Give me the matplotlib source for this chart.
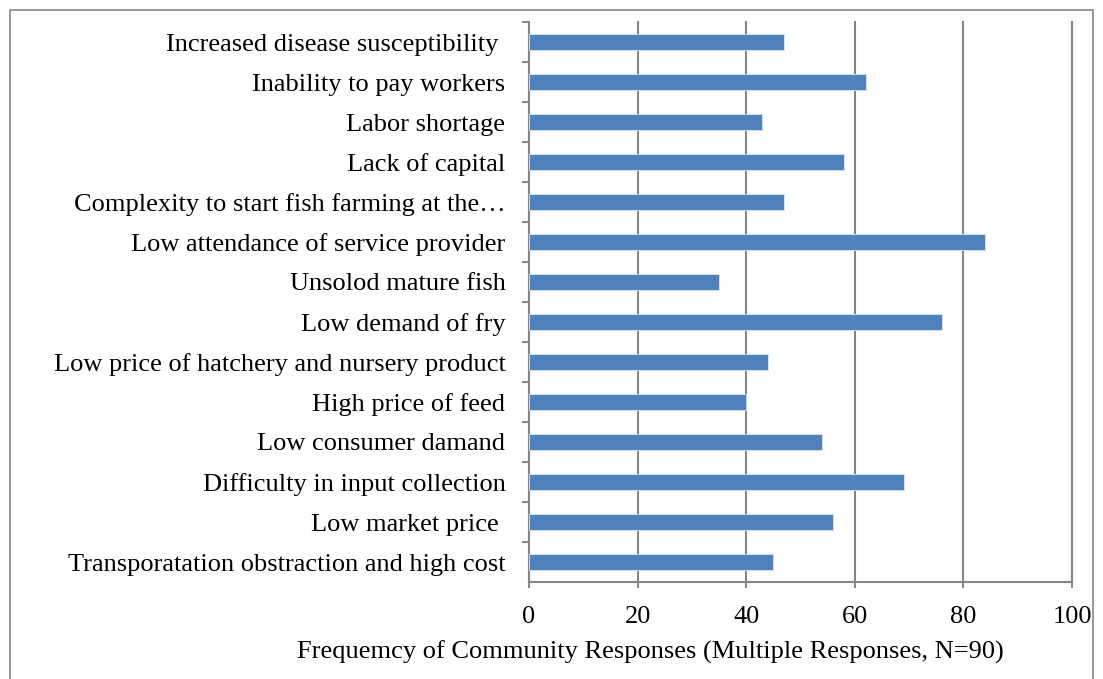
import matplotlib.pyplot as plt
from matplotlib.patches import Rectangle

categories = [
    'Increased disease susceptibility ',
    'Inability to pay workers',
    'Labor shortage',
    'Lack of capital',
    'Complexity to start fish farming at the\u2026',
    'Low attendance of service provider',
    'Unsolod mature fish',
    'Low demand of fry',
    'Low price of hatchery and nursery product',
    'High price of feed',
    'Low consumer damand',
    'Difficulty in input collection',
    'Low market price ',
    'Transporatation obstraction and high cost',
]
values = [47, 62, 43, 58, 47, 84, 35, 76, 44, 40, 54, 69, 56, 45]
xticks = [0, 20, 40, 60, 80, 100]

plt.rcParams['font.family'] = ['Liberation Serif', 'DejaVu Serif']

W, H = 1103, 679
fig = plt.figure(figsize=(W / 100, H / 100), dpi=100)
fig.patches.append(Rectangle((10 / W, -0.01), 1083 / W, 1 - 10 / H + 0.01,
                             transform=fig.transFigure, fill=False,
                             edgecolor='#868686', linewidth=1.2))

ax = fig.add_axes([529 / W, 1 - 582 / H, (1072 - 529) / W, (582 - 22) / H])
pos = list(range(len(categories)))[::-1]
ax.barh(pos, values, height=0.41, color='#4F81BD', edgecolor='#DCE6F2',
        linewidth=0.6, zorder=3)

ax.set_xlim(0, 100)
ax.set_ylim(-0.5, len(categories) - 0.5)
ax.set_xticks(xticks)
ax.set_yticks(pos)
ax.set_yticklabels(categories)
ax.set_yticks([p + 0.5 for p in range(len(categories))], minor=True)
ax.tick_params(axis='y', which='major', length=0, pad=17, labelsize=19)
ax.tick_params(axis='y', which='minor', length=5, width=1.4, color='#868686',
               direction='out')
ax.tick_params(axis='x', length=4.5, width=1.4, color='#868686', labelsize=19,
               pad=13)
ax.grid(axis='x', color='#868686', linewidth=1.5, zorder=0, clip_on=False)

for s in ['top', 'right']:
    ax.spines[s].set_visible(False)
for s in ['left', 'bottom']:
    ax.spines[s].set_color('#868686')
    ax.spines[s].set_linewidth(1.5)

fig.text(650 / W, 1 - 652 / H,
         'Frequemcy of Community Responses (Multiple Responses, N=90)',
         fontsize=19, ha='center', va='center')

fig.savefig('out.png', dpi=100)
